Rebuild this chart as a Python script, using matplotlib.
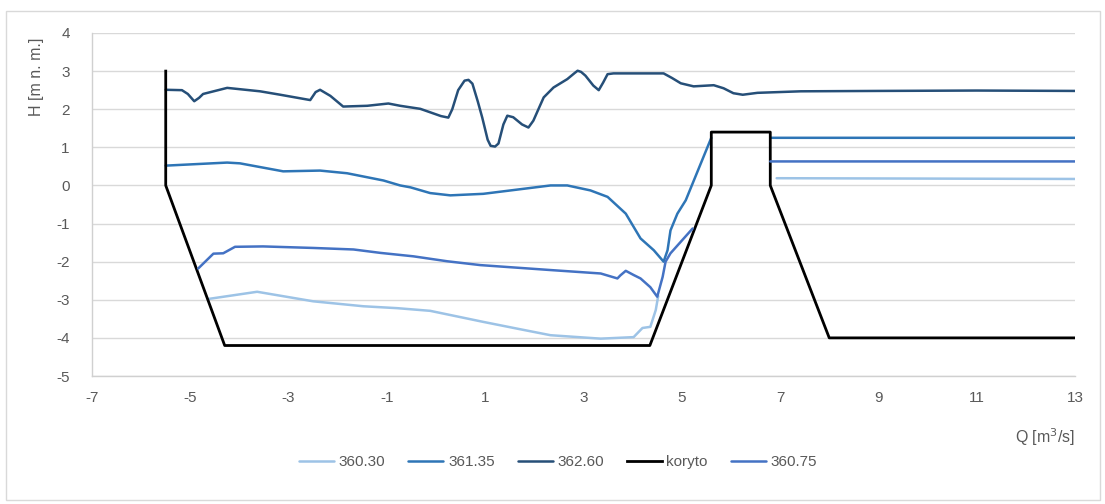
import matplotlib
matplotlib.use("Agg")
import matplotlib.pyplot as plt
from matplotlib.patches import Rectangle

# ---- data ----
koryto_x = [-5.5, -5.5, -4.3, 4.35, 5.6, 5.6, 6.8, 6.8, 8.0, 13.0]
koryto_y = [3.0, 0.0, -4.2, -4.2, 0.0, 1.4, 1.4, 0.0, -4.0, -4.0]

h362_x = [-5.5, -5.17, -5.05, -4.92, -4.82, -4.74, -4.25, -3.58, -3.17, -2.56, -2.45, -2.36,
          -2.15, -1.89, -1.4, -0.97, -0.73, -0.32, 0.1, 0.25, 0.33, 0.45, 0.58, 0.66, 0.74,
          0.85, 0.94, 1.05, 1.11, 1.2, 1.27, 1.37, 1.45, 1.57, 1.75, 1.88, 1.98, 2.1,
          2.19, 2.39, 2.67, 2.82, 2.88, 2.95, 3.04, 3.2, 3.31, 3.4, 3.49, 3.61, 4.63,
          4.8, 4.98, 5.24, 5.65, 5.85, 6.05, 6.24, 6.54, 7.42, 9.0, 11.0, 13.0]
h362_y = [2.51, 2.5, 2.4, 2.21, 2.3, 2.4, 2.56, 2.47, 2.38, 2.24, 2.45, 2.51,
          2.35, 2.07, 2.09, 2.15, 2.09, 2.01, 1.82, 1.78, 2.0, 2.5, 2.75, 2.77, 2.67,
          2.2, 1.78, 1.2, 1.04, 1.02, 1.1, 1.6, 1.83, 1.79, 1.6, 1.52, 1.7, 2.05,
          2.31, 2.57, 2.79, 2.95, 3.01, 2.98, 2.88, 2.62, 2.5, 2.7, 2.92, 2.94, 2.94,
          2.82, 2.68, 2.6, 2.63, 2.55, 2.42, 2.38, 2.43, 2.47, 2.48, 2.49, 2.48]

h361_x = [-5.5, -4.25, -3.99, -3.11, -2.36, -1.81, -1.07, -0.73, -0.52, -0.12, 0.29, 0.96,
          2.33, 2.67, 3.14, 3.49, 3.86, 4.16, 4.43, 4.63, 4.71, 4.77, 4.91, 5.08, 5.6,
          None, 6.8, 13.0]
h361_y = [0.52, 0.6, 0.58, 0.37, 0.39, 0.32, 0.13, 0.0, -0.05, -0.2, -0.26, -0.22,
          0.0, 0.0, -0.13, -0.3, -0.74, -1.39, -1.7, -2.0, -1.7, -1.18, -0.74, -0.39, 1.25,
          None, 1.25, 1.25]

h360_75_x = [-4.84, -4.53, -4.33, -4.09, -3.52, -2.5, -1.68, -1.13, -0.46, 0.23, 0.9,
             2.33, 3.35, 3.69, 3.75, 3.86, 4.02, 4.16, 4.36, 4.5, 4.61, 4.67, 4.77, 5.22,
             None, 6.8, 13.0]
h360_75_y = [-2.18, -1.79, -1.78, -1.61, -1.6, -1.64, -1.68, -1.77, -1.86, -1.99, -2.09,
             -2.22, -2.31, -2.44, -2.36, -2.24, -2.35, -2.44, -2.67, -2.92, -2.4, -2.0, -1.78, -1.13,
             None, 0.63, 0.63]

h360_30_x = [-4.64, -3.64, -2.5, -1.48, -0.79, -0.12, 0.29, 0.96, 1.66, 2.33, 3.35,
             4.02, 4.2, 4.36, 4.47, 4.52, None, 6.93, 13.0]
h360_30_y = [-2.98, -2.79, -3.04, -3.17, -3.22, -3.29, -3.4, -3.58, -3.76, -3.93, -4.02,
             -3.98, -3.74, -3.71, -3.27, -2.9, None, 0.19, 0.17]

x_ticks = [-7, -5, -3, -1, 1, 3, 5, 7, 9, 11, 13]
y_ticks = [-5, -4, -3, -2, -1, 0, 1, 2, 3, 4]


def nan(v):
    return [float('nan') if a is None else a for a in v]


plt.rcParams['font.family'] = ['Liberation Sans', 'DejaVu Sans']
fig = plt.figure(figsize=(11.05, 5.04), dpi=100)
W, H = 1105, 504
ax = fig.add_axes([92 / W, 1 - 376 / H, (1075 - 92) / W, (376 - 33) / H])

txt = '#595959'
kw = dict(lw=1.8, solid_joinstyle='round', solid_capstyle='round')
ax.plot(nan(h360_30_x), nan(h360_30_y), color='#9DC3E6', label='360.30', **kw)
ax.plot(nan(h361_x), nan(h361_y), color='#2E75B6', label='361.35', **kw)
ax.plot(h362_x, h362_y, color='#264F78', label='362.60', **kw)
ax.plot(koryto_x, koryto_y, color='black', lw=2.0, label='koryto')
ax.plot(nan(h360_75_x), nan(h360_75_y), color='#4472C4', label='360.75', **kw)

ax.set_xlim(-7, 13)
ax.set_ylim(-5, 4)
ax.set_xticks(x_ticks)
ax.set_yticks(y_ticks)
ax.set_xticklabels([str(t) for t in x_ticks])
ax.set_yticklabels([str(t) for t in y_ticks])
ax.tick_params(length=0, labelsize=11, colors=txt, pad=11)
ax.tick_params(axis='y', pad=16)
ax.grid(axis='y', color='#D9D9D9', lw=1)
ax.set_axisbelow(True)
for s in ['top', 'right']:
    ax.spines[s].set_visible(False)
for s in ['left', 'bottom']:
    ax.spines[s].set_color('#D0D0D0')
    ax.spines[s].set_linewidth(1)

fig.text(37 / W, 1 - 77 / H, 'H [m n. m.]', rotation=90, ha='center', va='center',
         fontsize=11.5, color=txt)
fig.text(1075 / W, 1 - 437 / H, 'Q [m$^3$/s]', ha='right', va='center',
         fontsize=11.5, color=txt)

leg = fig.legend(loc='center', bbox_to_anchor=(558 / W, 1 - 462 / H), ncol=5,
                 frameon=False, fontsize=11, handlelength=2.3, handletextpad=0.3,
                 columnspacing=1.5)
for t in leg.get_texts():
    t.set_color(txt)

fig.patches.append(Rectangle((6 / W, 1 - 500 / H), 1094 / W, 489 / H,
                             transform=fig.transFigure, fill=False,
                             edgecolor='#D9D9D9', lw=1))
fig.savefig('out.png', dpi=100)
